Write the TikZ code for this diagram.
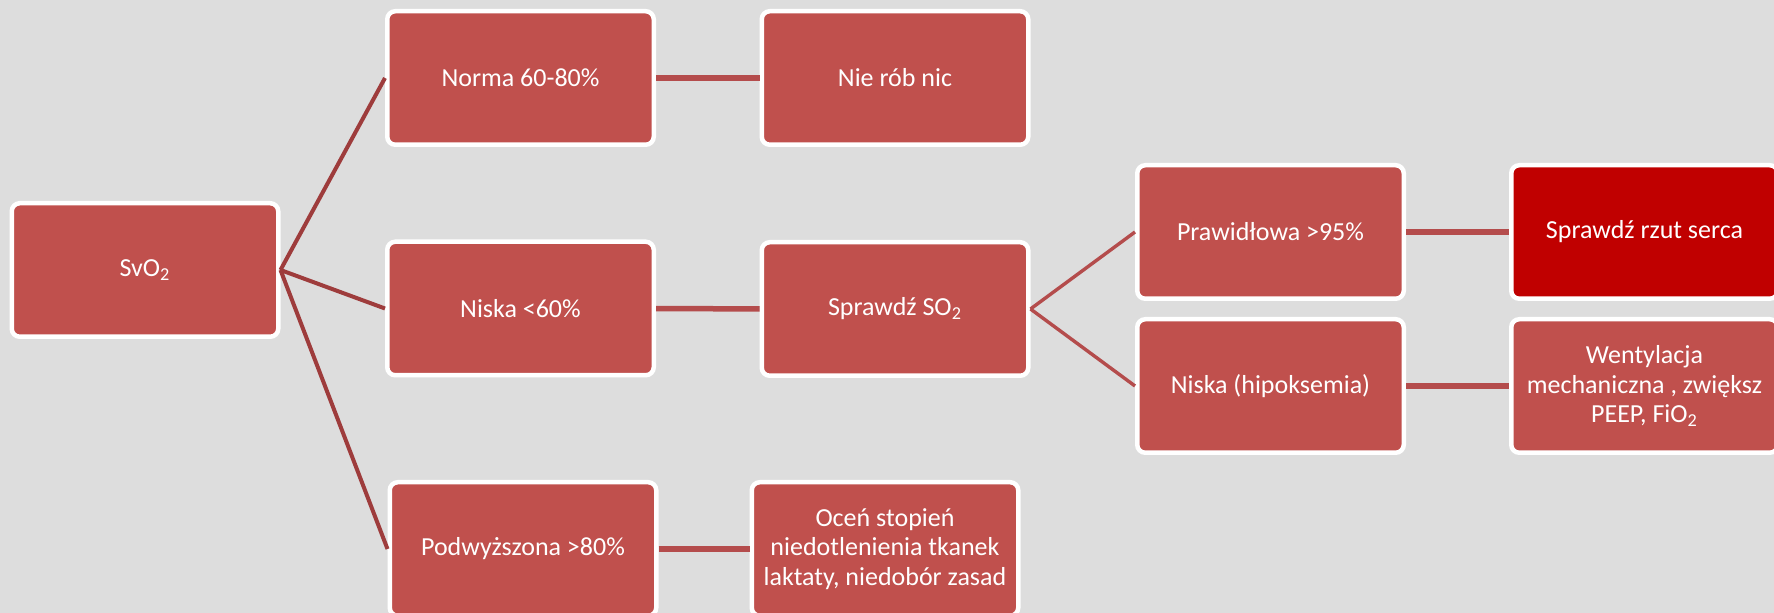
\documentclass[tikz,border=0pt]{standalone}
\usepackage{fontspec}
\setmainfont{Carlito}
\usepackage{color}

\definecolor{tlo}{RGB}{221,221,221}
\definecolor{czerw}{RGB}{192,80,77}
\definecolor{ciemny}{RGB}{192,0,0}
\definecolor{linia}{RGB}{158,60,60}
\definecolor{liniab}{RGB}{180,76,76}

\begin{document}
\begin{tikzpicture}[%
      x=0.5pt, y=-0.5pt,
      box/.style={draw=white, fill=czerw, line width=2.25pt, rounded corners=4pt,
        minimum width=133.25pt, minimum height=66.75pt, inner sep=0pt,
        text=white, align=center, font=\fontsize{13}{14.75}\selectfont},
      ]
      \clip (0,0) rectangle (1774,613);
      \fill [tlo] (0,0) rectangle (1774,613);

      \node [box] (svo) at (145,270) {SvO\textsubscript{2}};
      \node [box] (norma) at (520.5,78) {Norma 60-80\%};
      \node [box] (niska) at (520.5,308.5) {Niska <60\%};
      \node [box] (podw) at (523,549) {Podwyższona >80\%};
      \node [box] (nic) at (895,78) {Nie rób nic};
      \node [box] (sprso) at (895,309) {Sprawdź SO\textsubscript{2}};
      \node [box] (ocen) at (885,549) {Oceń stopień\\niedotlenienia tkanek\\laktaty, niedobór zasad};
      \node [box] (praw) at (1270.5,232) {Prawidłowa >95\%};
      \node [box] (hipo) at (1270.5,386) {Niska (hipoksemia)};
      \node [box, fill=ciemny] (rzut) at (1644.5,232) {Sprawdź rzut serca};
      \node [box] (went) at (1644.5,386) {Wentylacja\\mechaniczna , zwiększ\\PEEP, FiO\textsubscript{2}};

      \draw [color=linia, line width=2pt] (svo.east) -- (norma.west);
      \draw [color=linia, line width=2pt] (svo.east) -- (niska.west);
      \draw [color=linia, line width=2pt] (svo.east) -- (podw.west);

      \draw [color=liniab, line width=2.75pt] (norma) -- (nic);
      \draw [color=liniab, line width=2.75pt] (niska) -- (sprso);
      \draw [color=liniab, line width=2.75pt] (podw) -- (ocen);

      \draw [color=liniab, line width=1.7pt] (sprso.east) -- (praw.west);
      \draw [color=liniab, line width=1.7pt] (sprso.east) -- (hipo.west);

      \draw [color=liniab, line width=2.75pt] (praw) -- (rzut);
      \draw [color=liniab, line width=2.75pt] (hipo) -- (went);
\end{tikzpicture}
\end{document}
